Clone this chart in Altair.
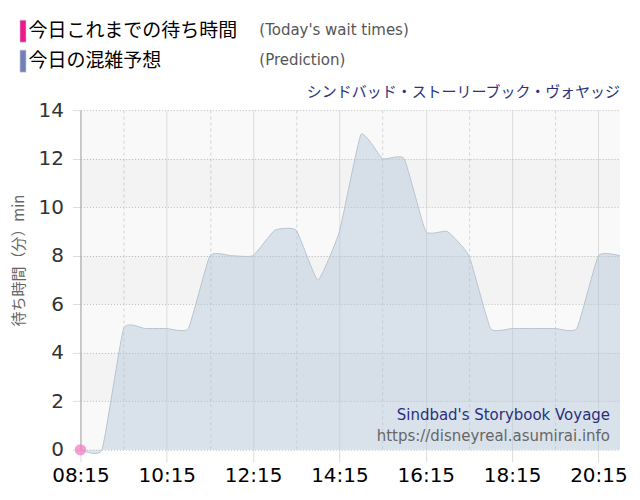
import altair as alt
import pandas as pd

# prediction (30 min steps)
times = ["08:15", "08:45", "09:15", "09:45", "10:15", "10:45", "11:15", "11:45",
         "12:15", "12:45", "13:15", "13:45", "14:15", "14:45", "15:15", "15:45",
         "16:15", "16:45", "17:15", "17:45", "18:15", "18:45", "19:15", "19:45",
         "20:15", "20:45"]
prediction = [0, 0, 5, 5, 5, 5, 8, 8,
              8, 9.05, 9.05, 7, 9, 13, 12, 12,
              9, 9, 8, 5, 5, 5, 5, 5,
              8, 8]

# today's actual wait times so far
actual_times = ["08:15"]
actual_values = [0]

y_ticks = [0, 2, 4, 6, 8, 10, 12, 14]
band_lo = [2, 6, 10]
band_hi = [4, 8, 12]

FONT = "DejaVu Sans, Noto Sans CJK JP"
JP = "Noto Sans CJK JP"


def to_min(s):
    h, m = s.split(":")
    return int(h) * 60 + int(m)


pred = pd.DataFrame({"t": [to_min(s) for s in times], "v": prediction})
act = pd.DataFrame({"t": [to_min(s) for s in actual_times], "v": actual_values})
bands = pd.DataFrame({"lo": band_lo, "hi": band_hi})

t0, t1 = to_min("08:15"), to_min("20:45")
x_ticks = list(range(t0, t1 + 1, 30))
major = f"(datum.value - {t0}) % 120 == 0"

W, H = 540, 340

xscale = alt.Scale(domain=[t0, t1], nice=False, zero=False)
yscale = alt.Scale(domain=[0, 14], nice=False)

xaxis = alt.Axis(
    values=x_ticks, title=None, domain=False,
    labelExpr=f"{major} ? (datum.value < 600 ? '0' : '') + floor(datum.value / 60) + ':' "
              "+ (datum.value % 60 < 10 ? '0' : '') + (datum.value % 60) : ''",
    labelOverlap=False, labelFlush=False, labelFontSize=20, labelColor="#000",
    labelFont=FONT, labelPadding=4, tickSize=12, tickColor="#dddddd",
    tickOpacity={"condition": {"test": major, "value": 1}, "value": 0},
    gridColor={"condition": {"test": major, "value": "#dcdcdc"}, "value": "#d4d4d4"},
    gridDash={"condition": {"test": major, "value": []}, "value": [3, 3]},
)
yaxis = alt.Axis(
    values=y_ticks, title="待ち時間（分）min", titleFont=JP, titleFontSize=15,
    titleFontWeight="normal", titleColor="#666", titleX=-62, titleY=150,
    titleBaseline="middle", titleAngle=270,
    labelFontSize=20, labelColor="#333", labelFont=FONT, labelPadding=9,
    labelFlush=False, tickSize=8, tickColor="#dddddd", domainColor="#aaaaaa",
    gridColor="#bdbdbd", gridDash=[1, 2],
)

band_layer = alt.Chart(bands).mark_rect(color="#000", opacity=0.022).encode(
    x=alt.value(0), x2=alt.value(W),
    y=alt.Y("lo:Q", scale=yscale), y2="hi:Q",
)

area = alt.Chart(pred).mark_area(
    interpolate="cardinal", tension=0.6, color="#adc4d8", opacity=0.42
).encode(
    x=alt.X("t:Q", scale=xscale, axis=xaxis),
    y=alt.Y("v:Q", scale=yscale, axis=yaxis),
)
line = alt.Chart(pred).mark_line(
    interpolate="cardinal", tension=0.6, color="#b8c4d0", strokeWidth=1
).encode(x="t:Q", y="v:Q")

dot = alt.Chart(act).mark_circle(size=130, color="#f27fc4", opacity=0.75).encode(
    x="t:Q", y="v:Q"
)


def label(text, x, y, size, color, font=FONT, align="left"):
    return alt.Chart(pd.DataFrame({"s": [text]})).mark_text(
        align=align, baseline="middle", fontSize=size, color=color, font=font
    ).encode(text="s:N", x=alt.value(x), y=alt.value(y))


def swatch(x, y, color):
    return alt.Chart(pd.DataFrame({"s": [0]})).mark_rect(
        color=color, stroke="#c8cce0", strokeWidth=0.6
    ).encode(x=alt.value(x), x2=alt.value(x + 6),
             y=alt.value(y), y2=alt.value(y + 22))


texts = [
    swatch(-60.5, -90, "#f0168c"),
    swatch(-60.5, -60, "#7480b4"),
    label("今日これまでの待ち時間", -52, -79, 19, "#000", JP),
    label("(Today's wait times)", 179, -80, 15, "#555"),
    label("今日の混雑予想", -52, -49, 19, "#000", JP),
    label("(Prediction)", 179, -50, 15, "#555"),
    label("シンドバッド・ストーリーブック・ヴォヤッジ", W, -18, 15, "#2b3381", JP, "right"),
    label("Sindbad's Storybook Voyage", W - 10, 305, 15, "#2a2e7c", FONT, "right"),
    label("https://disneyreal.asumirai.info", W - 10, 326, 15, "#666", FONT, "right"),
]

chart = alt.layer(band_layer, area, line, dot, *texts).properties(
    width=W, height=H,
    autosize=alt.AutoSizeParams(type="none"),
    padding={"left": 72.5, "top": 102, "right": 12, "bottom": 40},
    background="#ffffff",
).configure_view(fill="#f9f9f9", stroke=None)

chart.save("out.html", embed_options={"renderer": "svg", "actions": False})
